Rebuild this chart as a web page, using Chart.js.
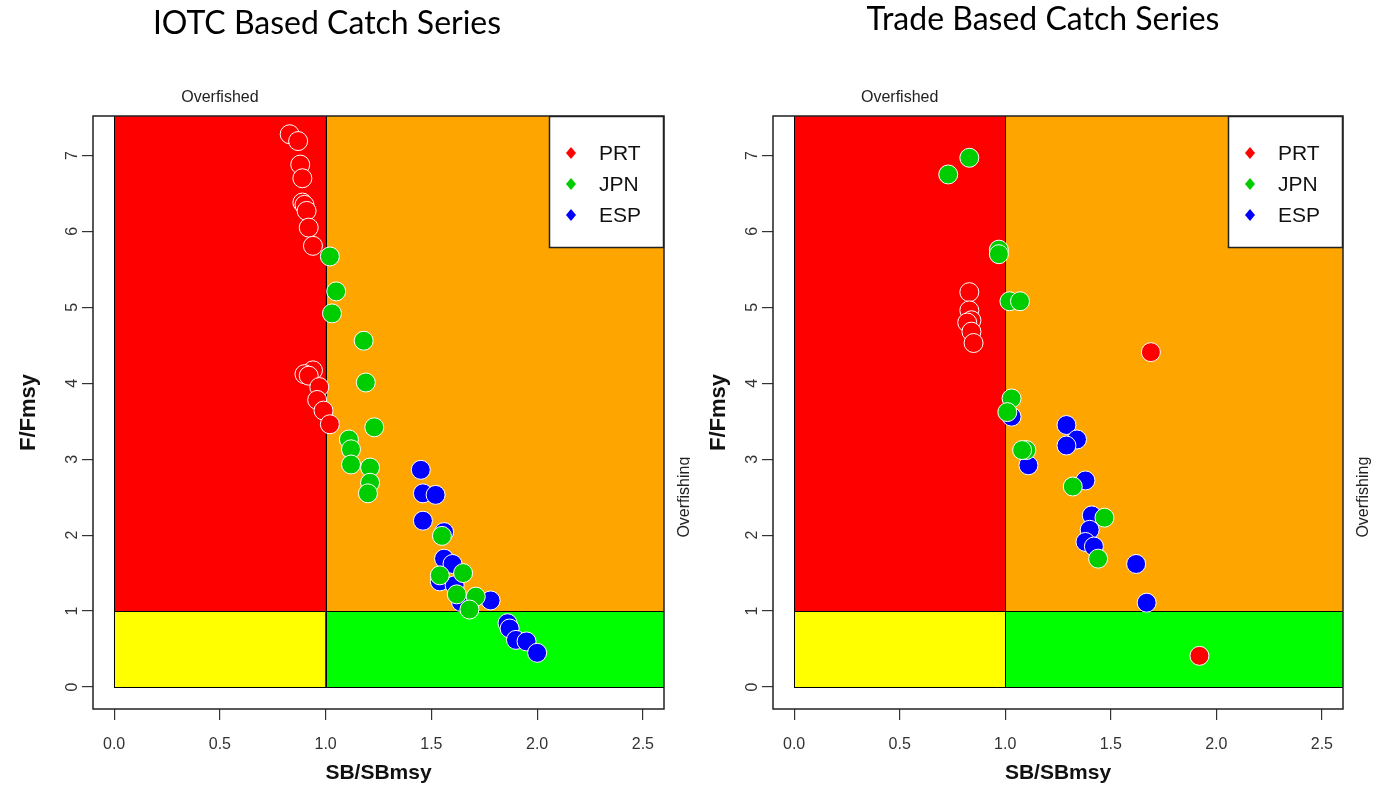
<!DOCTYPE html>
<html>
<head>
<meta charset="utf-8">
<script src="https://cdn.jsdelivr.net/npm/chart.js@4.4.1/dist/chart.umd.min.js"></script>
<style>
body{margin:0;background:#fff;width:1378px;height:788px;overflow:hidden;position:relative}
.panel{position:absolute;top:0;height:788px;background:#fff}
#p1{left:0;width:690px}
#p2{left:690px;width:688px}
</style>
</head>
<body>
<div class="panel" id="p1"><canvas id="kobeIOTC" width="690" height="788"></canvas></div>
<div class="panel" id="p2"><canvas id="kobeTrade" width="688" height="788"></canvas></div>
<script>
// flotas y colores
var FLOTAS=['PRT','JPN','ESP'];
var COLORES=['#FF0000','#00CD00','#0000FF'];
var X_TICKS=[0,0.5,1,1.5,2,2.5];
var Y_TICKS=[0,1,2,3,4,5,6,7];
var LIMITE_B=1, LIMITE_F=1;

// serie de capturas IOTC (SB/SBmsy, F/Fmsy)
var iotcPRT_B=[0.83,0.87,0.88,0.89,0.89,0.90,0.91,0.92,0.94,0.94,0.90,0.92,0.97,0.96,0.99,1.02];
var iotcPRT_F=[7.28,7.19,6.88,6.70,6.38,6.35,6.27,6.05,5.81,4.17,4.12,4.10,3.95,3.78,3.64,3.46];
var iotcJPN_B=[1.02,1.05,1.03,1.18,1.19,1.23,1.11,1.12,1.12,1.21,1.21,1.20,1.55,1.54,1.65,1.62,1.71,1.68];
var iotcJPN_F=[5.67,5.21,4.92,4.56,4.01,3.42,3.26,3.13,2.93,2.89,2.69,2.55,1.99,1.47,1.50,1.22,1.19,1.02];
var iotcESP_B=[1.45,1.46,1.52,1.46,1.56,1.56,1.60,1.54,1.61,1.64,1.78,1.86,1.87,1.90,1.95,2.00];
var iotcESP_F=[2.86,2.55,2.53,2.19,2.04,1.69,1.62,1.39,1.34,1.12,1.14,0.84,0.77,0.62,0.60,0.45];

// serie de capturas basada en comercio
var tradePRT_B=[0.83,0.83,0.84,0.82,0.84,0.85,1.69,1.92];
var tradePRT_F=[5.20,4.96,4.83,4.80,4.68,4.53,4.41,0.41];
var tradeJPN_B=[0.83,0.73,0.97,0.97,1.02,1.07,1.03,1.01,1.10,1.08,1.32,1.47,1.44];
var tradeJPN_F=[6.97,6.75,5.76,5.70,5.08,5.08,3.80,3.62,3.12,3.12,2.64,2.23,1.69];
var tradeESP_B=[1.03,1.29,1.34,1.29,1.11,1.38,1.41,1.40,1.38,1.42,1.62,1.67];
var tradeESP_F=[3.56,3.45,3.26,3.18,2.92,2.72,2.26,2.07,1.91,1.85,1.62,1.11];

var FUENTE='"Liberation Sans", Arial, sans-serif';

function puntos(B,F){
	var r=new Array();
	for (var i=0;i<B.length;i++){ r.push({x:B[i],y:F[i]}); }
	return r;
}

// zonas del diagrama de Kobe
var zonasKobe={
	id:'zonasKobe',
	beforeDatasetsDraw:function(chart){
		var ctx=chart.ctx, a=chart.chartArea, sx=chart.scales.x, sy=chart.scales.y;
		var x0=sx.getPixelForValue(0), xl=sx.getPixelForValue(LIMITE_B), xr=a.right+5;
		var y0=sy.getPixelForValue(0), yl=sy.getPixelForValue(LIMITE_F), yt=a.top-5;
		ctx.save();
		ctx.beginPath(); ctx.rect(a.left,a.top,a.right-a.left,a.bottom-a.top); ctx.clip();
		ctx.lineWidth=1; ctx.strokeStyle='#000';
		var zonas=[[x0,yl,xl,yt,'#FF0000'],[xl,yl,xr,yt,'#FFA500'],[x0,y0,xl,yl,'#FFFF00'],[xl,y0,xr,yl,'#00FF00']];
		zonas.forEach(function(z){
			ctx.fillStyle=z[4];
			ctx.fillRect(z[0],z[3],z[2]-z[0],z[1]-z[3]);
			ctx.strokeRect(Math.round(z[0])+0.5,Math.round(z[3])+0.5,Math.round(z[2]-z[0]),Math.round(z[1]-z[3]));
		});
		ctx.restore();
	},
	afterDatasetsDraw:function(chart){
		var ctx=chart.ctx, a=chart.chartArea;
		// leyenda arriba a la derecha
		var w=115, h=132, lx=a.right-w, ly=a.top;
		ctx.save();
		ctx.fillStyle='#fff'; ctx.fillRect(lx,ly,w,h);
		ctx.strokeStyle='#222'; ctx.lineWidth=1.5; ctx.strokeRect(lx+0.5,ly+0.5,w-1,h-1);
		ctx.font='21px '+FUENTE; ctx.textBaseline='middle'; ctx.textAlign='left';
		chart.data.datasets.forEach(function(ds,i){
			var cy=ly+37+i*31, cx=lx+22;
			ctx.fillStyle=ds.backgroundColor;
			ctx.beginPath(); ctx.moveTo(cx,cy-6); ctx.lineTo(cx+5,cy); ctx.lineTo(cx,cy+6); ctx.lineTo(cx-5,cy); ctx.closePath(); ctx.fill();
			ctx.fillStyle='#111'; ctx.fillText(ds.label,lx+50,cy+1);
		});
		ctx.restore();
	},
	afterDraw:function(chart){
		var ctx=chart.ctx, a=chart.chartArea, sx=chart.scales.x, sy=chart.scales.y, o=chart.options.plugins.zonasKobe;
		ctx.save();
		ctx.strokeStyle='#222'; ctx.lineWidth=1.5;
		ctx.strokeRect(a.left,a.top,a.right-a.left,a.bottom-a.top);
		ctx.fillStyle='#000'; ctx.textAlign='center';
		ctx.font='32px Lato, "Open Sans", sans-serif'; ctx.textBaseline='middle';
		ctx.fillText(o.titulo,o.tituloX,o.tituloY);
		ctx.fillStyle='#222'; ctx.font='16px '+FUENTE; ctx.textBaseline='alphabetic';
		ctx.fillText('Overfished',sx.getPixelForValue(0.5),a.top-14);
		ctx.translate(a.right+25,sy.getPixelForValue(2.5)); ctx.rotate(-Math.PI/2);
		ctx.fillText('Overfishing',0,0);
		ctx.restore();
	}
};

function kobe(id,titulo,tituloX,tituloY,padIzq,padDer,B,F){
	var datasets=new Array();
	var orden=[1,0,2];
	for (var i=0;i<FLOTAS.length;i++){
		datasets.push({
			label:FLOTAS[i],
			data:puntos(B[i],F[i]),
			backgroundColor:COLORES[i],
			borderColor:'#ffffff',
			borderWidth:1,
			pointRadius:9.5,
			order:orden[i]
		});
	}
	var config={
		type:'scatter',
		data:{datasets:datasets},
		options:{
			responsive:false,
			animation:false,
			events:[],
			layout:{padding:{top:116,right:padDer,left:0,bottom:0}},
			plugins:{
				legend:{display:false},
				tooltip:{enabled:false},
				zonasKobe:{titulo:titulo,tituloX:tituloX,tituloY:tituloY}
			},
			scales:{
				x:{
					type:'linear',min:-0.1,max:2.6,
					afterFit:function(s){ s.height=79; },
					afterBuildTicks:function(s){ s.ticks=X_TICKS.map(function(v){return {value:v};}); },
					border:{display:false},
					grid:{drawOnChartArea:false,drawTicks:true,tickLength:11,color:'#333',lineWidth:1.2},
					ticks:{padding:15,color:'#333',font:{family:FUENTE,size:16},callback:function(v){return v.toFixed(1);}},
					title:{display:true,text:'SB/SBmsy',color:'#111',font:{family:FUENTE,size:21,weight:'bold'},padding:{top:0,bottom:2}}
				},
				y:{
					type:'linear',min:-0.29,max:7.52,
					afterFit:function(s){ s.width=padIzq; },
					afterBuildTicks:function(s){ s.ticks=Y_TICKS.map(function(v){return {value:v};}); },
					border:{display:false},
					grid:{drawOnChartArea:false,drawTicks:true,tickLength:11,color:'#333',lineWidth:1.2},
					ticks:{padding:5,color:'#333',minRotation:90,maxRotation:90,crossAlign:'center',font:{family:FUENTE,size:16}},
					title:{display:true,text:'F/Fmsy',color:'#111',font:{family:FUENTE,size:22,weight:'bold'},padding:{top:16,bottom:0}}
				}
			}
		},
		plugins:[zonasKobe]
	};
	return new Chart(document.getElementById(id).getContext('2d'),config);
}

kobe('kobeIOTC','IOTC Based Catch Series',327,24,93,26,
	[iotcPRT_B,iotcJPN_B,iotcESP_B],[iotcPRT_F,iotcJPN_F,iotcESP_F]);
kobe('kobeTrade','Trade Based Catch Series',353,20,83,35,
	[tradePRT_B,tradeJPN_B,tradeESP_B],[tradePRT_F,tradeJPN_F,tradeESP_F]);
</script>
</body>
</html>
